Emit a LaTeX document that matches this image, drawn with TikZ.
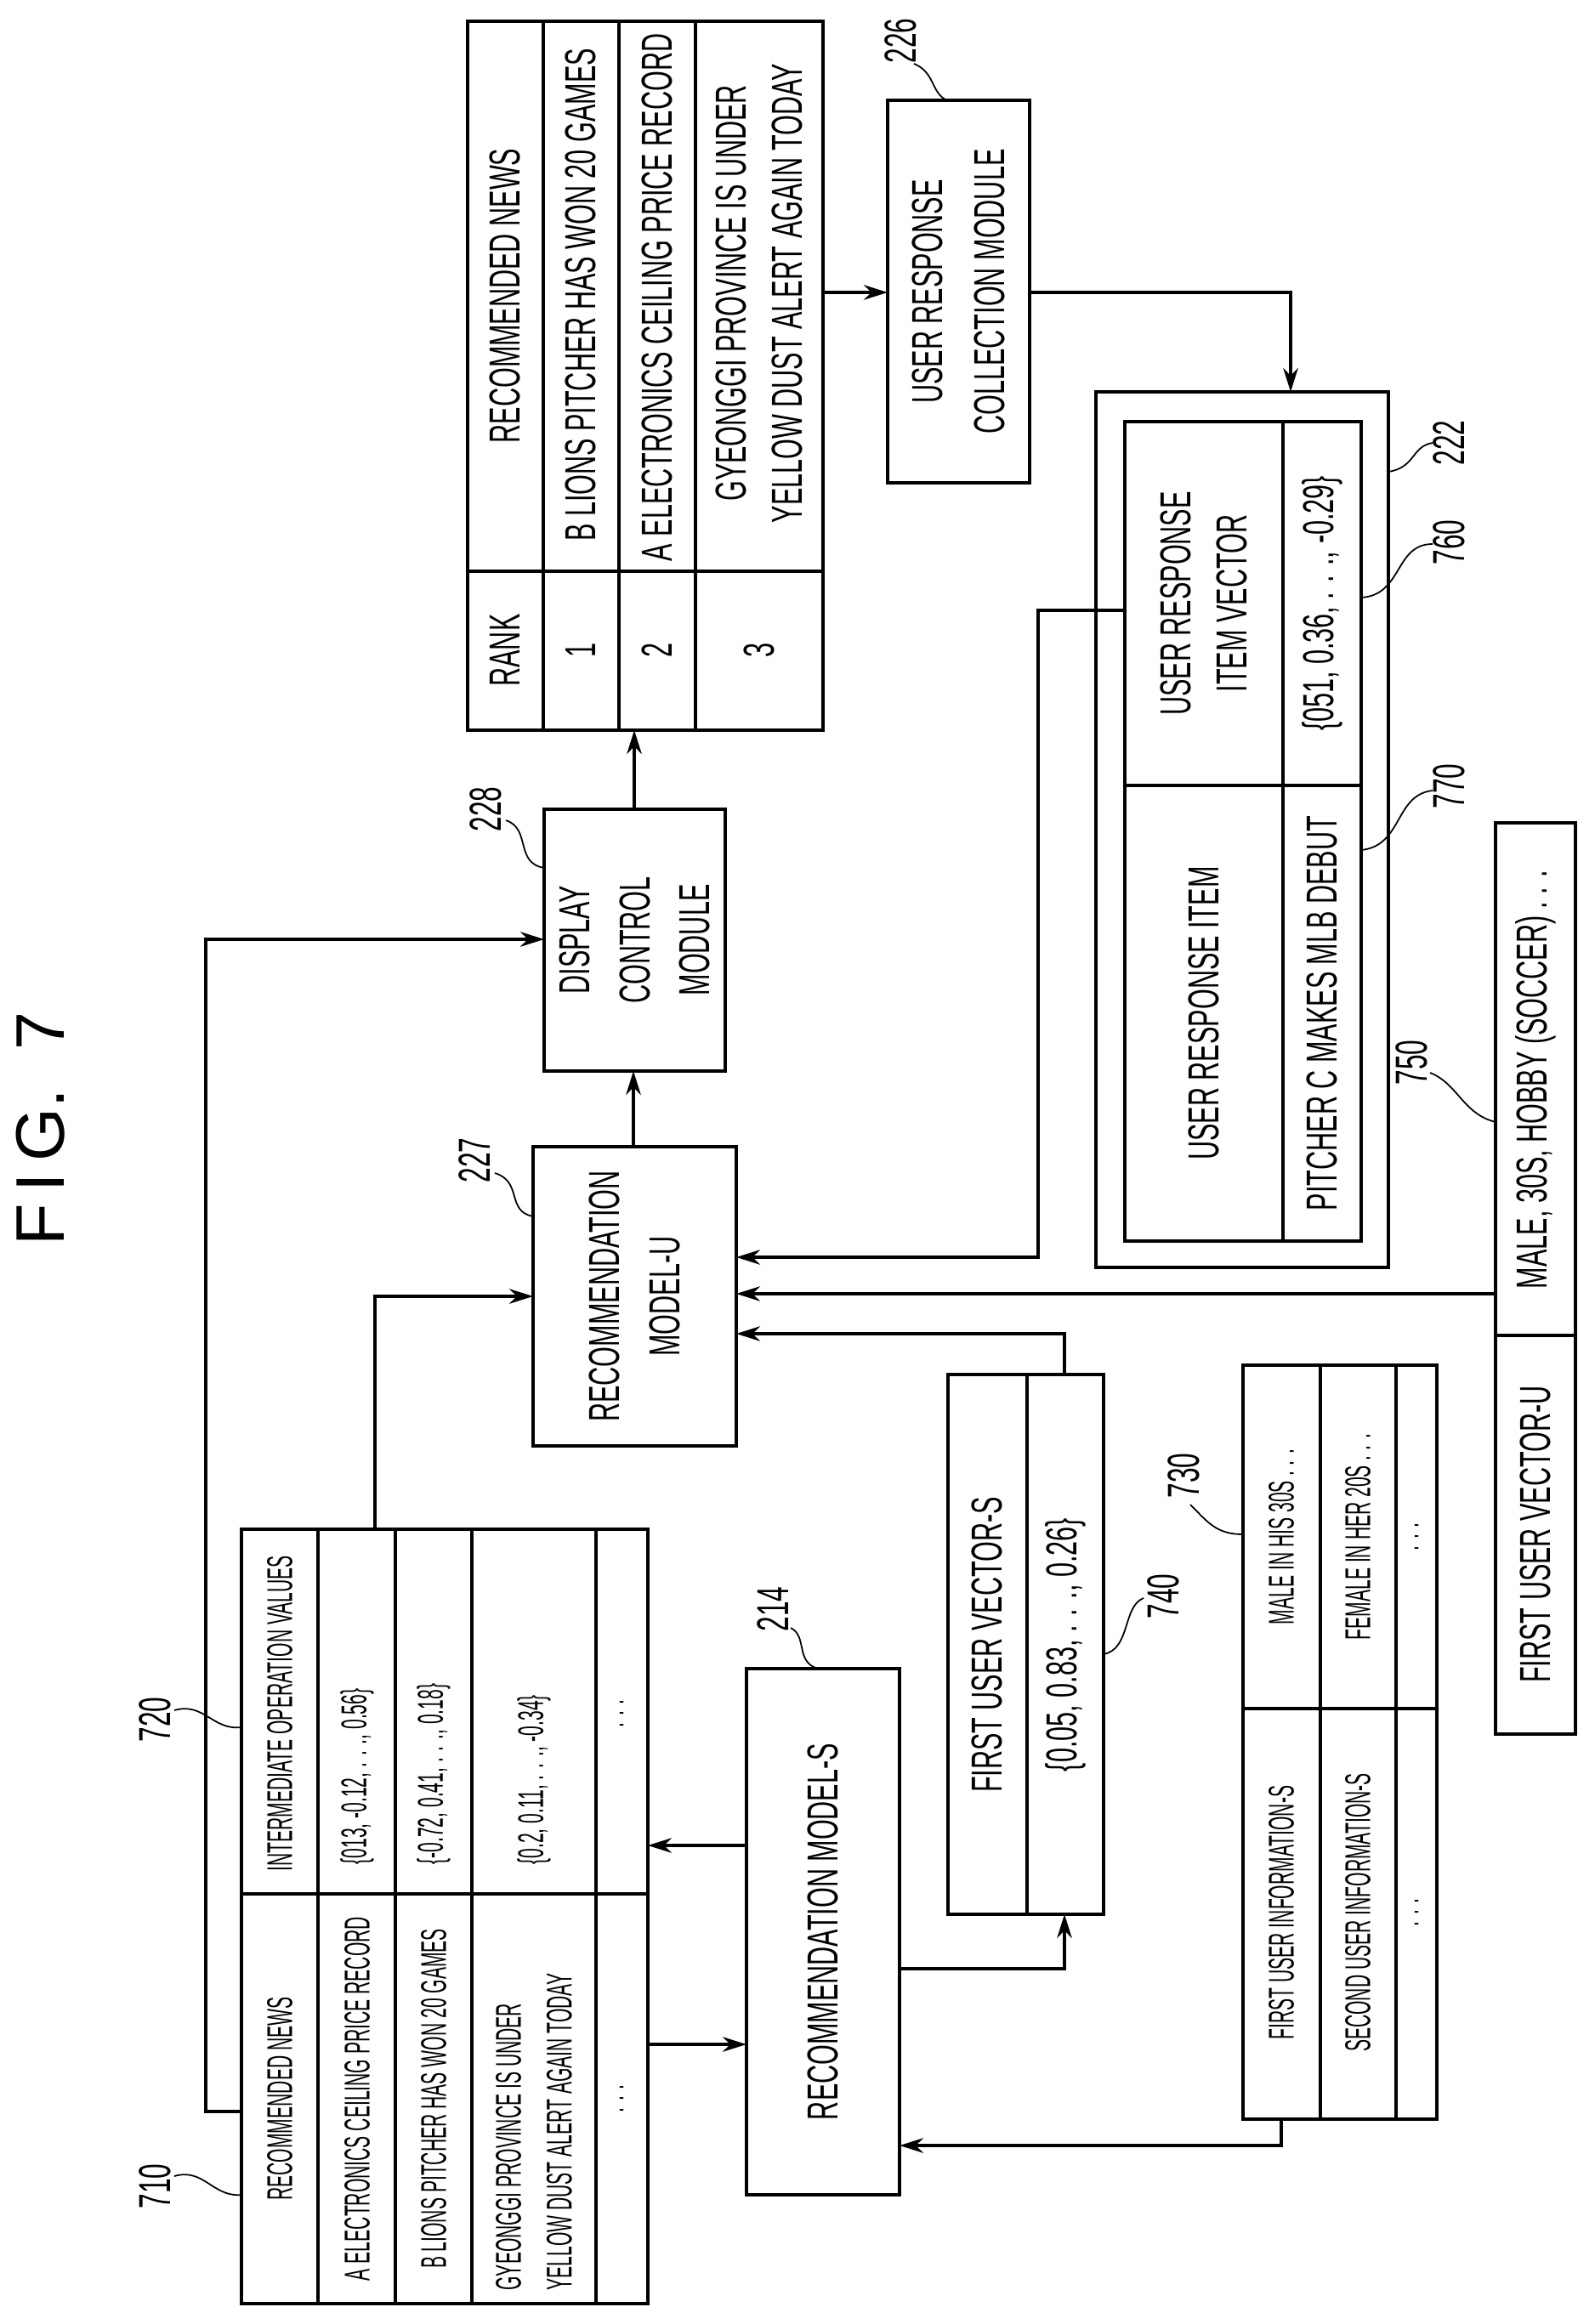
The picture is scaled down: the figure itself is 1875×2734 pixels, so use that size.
\documentclass[tikz,border=0pt]{standalone}
\usepackage{fontspec}
\setmainfont{Liberation Sans}
\newfontfamily\nA{Liberation Sans}[FakeStretch=0.6]
\newfontfamily\nB{Liberation Sans}[FakeStretch=0.5]
\usetikzlibrary{fit,arrows.meta}
\begin{document}
\begin{tikzpicture}[x=0.01cm,y=-0.01cm,line width=0.9pt,
  bx/.style={draw,inner sep=0pt},
  t/.style={rotate=90,inner sep=0pt,align=center,font=\nA\fontsize{14.5}{19}\selectfont},
  ts/.style={rotate=90,inner sep=0pt,align=center,font=\nB\fontsize{12}{17}\selectfont},
  lab/.style={rotate=90,inner sep=0pt,font=\nA\fontsize{15}{15}\selectfont},
  ld/.style={line width=0.5pt},
  arr/.style={-{Stealth[length=8pt,width=5pt]}}]
\useasboundingbox (0,0) rectangle (1875,2734);
\node[rotate=90,font=\fontsize{23}{23}\selectfont\rmfamily] (fig) at (48,1328) {F\,I\,G.\ \ 7};
% table 710/720
\node[bx,fit={(284,1799) (762,2710)}] (t710) {};
\foreach \x in {374,465,555,701} \draw (\x,1799) -- (\x,2710);
\draw (284,2228) -- (762,2228);
\node[ts] (a1) at (329,2469) {RECOMMENDED NEWS};
\node[ts] (a2) at (420,2469) {A ELECTRONICS CEILING PRICE RECORD};
\node[ts] (a3) at (510,2469) {B LIONS PITCHER HAS WON 20 GAMES};
\node[ts,align=left,anchor=west] (a4) at (628,2696) {GYEONGGI PROVINCE IS UNDER\\YELLOW DUST ALERT AGAIN TODAY};
\node[ts] (a5) at (731,2469) {. . .};
\node[ts] (b1) at (329,2016) {INTERMEDIATE OPERATION VALUES};
\node[ts,anchor=west] (b2) at (420,2195) {\{013, -0.12, . . ., 0.56\}};
\node[ts,anchor=west] (b3) at (510,2195) {\{-0.72, 0.41, . . ., 0.18\}};
\node[ts,anchor=west] (b4) at (628,2195) {\{0.2, 0.11, . . ., -0.34\}};
\node[ts] (b5) at (731,2016) {. . .};
% rank table
\node[bx,fit={(550,25) (968,859)}] (rank) {};
\foreach \x in {639,728,818} \draw (\x,25) -- (\x,859);
\draw (550,672) -- (968,672);
\node[t] (r0) at (594,765) {RANK};
\node[t] (r1) at (683,765) {1};
\node[t] (r2) at (773,765) {2};
\node[t] (r3) at (893,765) {3};
\node[t] (n0) at (594,348) {RECOMMENDED NEWS};
\node[t] (n1) at (683,347) {B LIONS PITCHER HAS WON 20 GAMES};
\node[t] (n2) at (773,350) {A ELECTRONICS CEILING PRICE RECORD};
\node[t] (n3) at (893,345) {GYEONGGI PROVINCE IS UNDER\\YELLOW DUST ALERT AGAIN TODAY};
% modules
\node[bx,fit={(640,952) (853,1260)}] (dc) {};
\node[t,font=\nA\fontsize{14.5}{20}\selectfont] at (dc.center) {DISPLAY\\CONTROL\\MODULE};
\node[bx,fit={(627,1349) (866,1701)}] (mu) {};
\node[t,font=\nA\fontsize{14.5}{20}\selectfont] at (mu.center) {RECOMMENDATION\\MODEL-U};
\node[bx,fit={(1044,118) (1211,568)}] (urc) {};
\node[t,font=\nA\fontsize{14.5}{21}\selectfont] at (urc.center) {USER RESPONSE\\COLLECTION MODULE};
\node[bx,fit={(878,1963) (1058,2582)}] (ms) {};
\node[t] at (ms.center) {RECOMMENDATION MODEL-S};
% vector S
\node[bx,fit={(1115,1617) (1298,2252)}] (vs) {};
\draw (1208,1617) -- (1208,2252);
\node[t] at (1161,1935) {FIRST USER VECTOR-S};
\node[t] at (1253,1935) {\{0.05, 0.83, . . ., 0.26\}};
% user info table
\node[bx,fit={(1462,1606) (1690,2493)}] (ui) {};
\draw (1553,1606) -- (1553,2493) (1642,1606) -- (1642,2493) (1462,2010) -- (1690,2010);
\node[ts] at (1507,2250) {FIRST USER INFORMATION-S};
\node[ts] at (1597,2250) {SECOND USER INFORMATION-S};
\node[ts] at (1666,2250) {. . .};
\node[ts] at (1507,1808) {MALE IN HIS 30S . . .};
\node[ts] at (1597,1808) {FEMALE IN HER 20S . . .};
\node[ts] at (1666,1808) {. . .};
% vector U
\node[bx,fit={(1759,968) (1853,2040)}] (vu) {};
\draw (1759,1571) -- (1853,1571);
\node[t] at (1806,1805) {FIRST USER VECTOR-U};
\node[t] at (1806,1270) {MALE, 30S, HOBBY (SOCCER) . . .};
% 222
\node[bx,fit={(1289,461) (1633,1491)}] (outer) {};
\node[bx,fit={(1323,496) (1601,1460)}] (inner) {};
\draw (1509,496) -- (1509,1460) (1323,924) -- (1601,924);
\node[t] at (1416,710) {USER RESPONSE\\ITEM VECTOR};
\node[t] at (1555,710) {\{051, 0.36, . . ., -0.29\}};
\node[t] at (1416,1192) {USER RESPONSE ITEM};
\node[t] at (1555,1192) {PITCHER C MAKES MLB DEBUT};
% connectors
\draw[arr] (284,2484) -- (242,2484) -- (242,1105) -- (640,1105);
\draw[arr] (441,1799) -- (441,1525) -- (627,1525);
\draw[arr] (745,1349) -- (745,1260);
\draw[arr] (746,952) -- (746,859);
\draw[arr] (968,344) -- (1044,344);
\draw[arr] (1211,344) -- (1518,344) -- (1518,461);
\draw[arr] (1323,718) -- (1221,718) -- (1221,1479) -- (866,1479);
\draw[arr] (1759,1522) -- (866,1522);
\draw[arr] (1252,1617) -- (1252,1569) -- (866,1569);
\draw[arr] (1058,2316) -- (1252,2316) -- (1252,2252);
\draw[arr] (1507,2493) -- (1507,2524) -- (1058,2524);
\draw[arr] (878,2171) -- (762,2171);
\draw[arr] (762,2405) -- (878,2405);
% labels
\node[lab] (l710) at (182,2572) {710};
\draw[ld] (205,2560) .. controls (240,2550) and (250,2585) .. (284,2582);
\node[lab] (l720) at (182,2023) {720};
\draw[ld] (205,2012) .. controls (240,2002) and (250,2036) .. (284,2032);
\node[lab] (l214) at (909,1893) {214};
\draw[ld] (930,1915) .. controls (950,1925) and (935,1955) .. (962,1963);
\node[lab] (l228) at (571,952) {228};
\draw[ld] (595,965) .. controls (625,975) and (605,1015) .. (640,1021);
\node[lab] (l227) at (558,1365) {227};
\draw[ld] (582,1380) .. controls (615,1390) and (595,1425) .. (627,1431);
\node[lab] (l226) at (1059,48) {226};
\draw[ld] (1075,75) .. controls (1100,85) and (1095,110) .. (1114,118);
\node[lab] (l740) at (1368,1878) {740};
\draw[ld] (1345,1880) .. controls (1320,1890) and (1330,1940) .. (1298,1946);
\node[lab] (l730) at (1392,1736) {730};
\draw[ld] (1400,1770) .. controls (1420,1790) and (1430,1805) .. (1462,1805);
\node[lab] (l222) at (1704,521) {222};
\draw[ld] (1685,521) .. controls (1660,525) and (1665,550) .. (1633,555);
\node[lab] (l760) at (1704,638) {760};
\draw[ld] (1685,640) .. controls (1640,640) and (1650,700) .. (1601,703);
\node[lab] (l770) at (1704,925) {770};
\draw[ld] (1685,930) .. controls (1640,935) and (1650,995) .. (1601,1000);
\node[lab] (l750) at (1660,1250) {750};
\draw[ld] (1682,1262) .. controls (1715,1275) and (1720,1310) .. (1759,1320);
\end{tikzpicture}
\end{document}
